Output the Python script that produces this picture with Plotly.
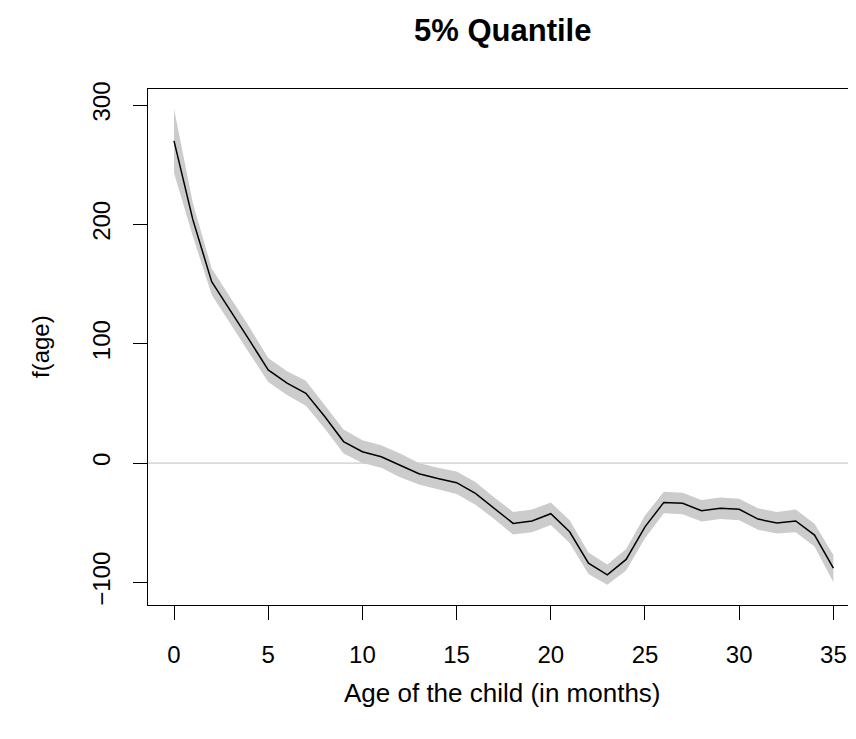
import plotly.graph_objects as go

# ---- data ----
age = list(range(36))
f_est = [270, 204, 152, 128, 103, 78, 67, 58.5, 39, 18, 9.5, 5.3, -2, -9, -13,
         -16.5, -25.5, -38, -50.6, -48.6, -42.5, -57.6, -84, -93.7, -80.8, -53.5,
         -33, -33.8, -40, -38, -38.8, -47, -50.3, -48.6, -60.4, -88]
f_upper = [297, 218, 163, 139, 114, 88, 77, 69, 49, 28, 19, 15, 8, 0, -4,
           -7, -16, -29, -41, -39, -33, -48, -75, -85, -72, -44,
           -24, -25, -31, -29, -30, -38, -41, -39, -51, -77]
f_lower = [243, 190, 141, 117, 92, 68, 57, 48, 29, 8, 0, -4, -12, -18, -22,
           -26, -35, -47, -60, -58, -52, -67, -93, -102, -90, -63,
           -42, -43, -49, -47, -48, -56, -59, -58, -70, -100]
x_ticks = [0, 5, 10, 15, 20, 25, 30, 35]
y_ticks = [-100, 0, 100, 200, 300]

FONT = "Liberation Sans, Arial, sans-serif"
BAND = "#cccccc"

fig = go.Figure()
# confidence band
fig.add_trace(go.Scatter(x=age + age[::-1], y=f_upper + f_lower[::-1],
                         fill="toself", fillcolor=BAND, line=dict(width=0),
                         mode="lines", hoverinfo="skip", showlegend=False))
# zero reference line
fig.add_shape(type="line", xref="paper", x0=0, x1=1, yref="y", y0=0, y1=0,
              line=dict(color=BAND, width=1.3), layer="below")
# estimate
fig.add_trace(go.Scatter(x=age, y=f_est, mode="lines",
                         line=dict(color="black", width=1.5), showlegend=False))

fig.update_layout(
    width=848, height=731,
    margin=dict(l=140, r=0, t=81, b=134),
    paper_bgcolor="white", plot_bgcolor="white",
    font=dict(family=FONT, size=24, color="black"),
    xaxis=dict(range=[-1.38, 36.2], tickmode="array", tickvals=x_ticks,
               showgrid=False, zeroline=False, showline=True, mirror=True,
               linecolor="black", linewidth=1.4, ticks="outside", ticklen=14,
               tickwidth=1.3, tickcolor="black", ticklabelstandoff=14),
    yaxis=dict(range=[-119, 313.5], tickmode="array", tickvals=y_ticks,
               tickangle=-90, showgrid=False, zeroline=False, showline=True,
               mirror=False, linecolor="black", linewidth=1.4, ticks="outside",
               ticklen=14, tickwidth=1.3, tickcolor="black", ticklabelstandoff=13),
    annotations=[
        dict(text="<b>5% Quantile</b>", xref="paper", yref="paper", x=0.5, y=1.114,
             xanchor="center", yanchor="middle", showarrow=False,
             font=dict(family=FONT, size=31)),
        dict(text="Age of the child (in months)", xref="paper", yref="paper",
             x=0.5, y=-0.1705, xanchor="center", yanchor="middle", showarrow=False,
             font=dict(family=FONT, size=26)),
        dict(text="f(age)", xref="paper", yref="paper", x=-0.1525, y=0.5,
             xanchor="center", yanchor="middle", textangle=-90, showarrow=False,
             font=dict(family=FONT, size=24)),
    ],
)

fig.write_html("out.html")
